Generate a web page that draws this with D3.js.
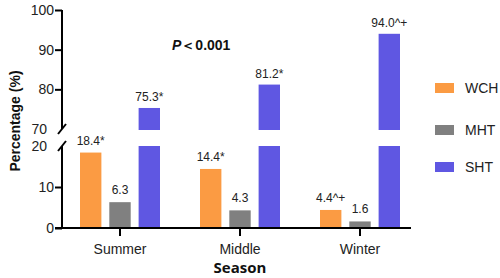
<!DOCTYPE html>
<html><head><meta charset="utf-8">
<script src="https://cdn.jsdelivr.net/npm/d3@7"></script>
<style>body{margin:0;background:#fff}svg{display:block}text{font-family:"Liberation Sans",Arial,sans-serif}</style>
</head><body><svg id="c" width="500" height="278"></svg>
<script>
const seasons = ["Summer", "Middle", "Winter"];
const seriesNames = ["WCH", "MHT", "SHT"];
const colors = ["#FB9B43", "#808080", "#5F57E2"];
const wch = [18.4, 14.4, 4.4];
const mht = [6.3, 4.3, 1.6];
const sht = [75.3, 81.2, 94.0];
const wchLabels = ["18.4*", "14.4*", "4.4^+"];
const mhtLabels = ["6.3", "4.3", "1.6"];
const shtLabels = ["75.3*", "81.2*", "94.0^+"];
const lowerTicks = [0, 10, 20];
const upperTicks = [70, 80, 90, 100];

const svg = d3.select("#c");
const x0 = d3.scaleBand().domain(seasons).range([60, 420]).paddingInner(0).paddingOuter(0);
const x1 = d3.scaleBand().domain(seriesNames).range([0, 80]).paddingInner(0.27).paddingOuter(0);
const yLow = d3.scaleLinear().domain([0, 20]).range([228, 146]);
const yUp = d3.scaleLinear().domain([70, 100]).range([129, 10]);
const axisX = 62;

const vals = [wch, mht, sht];
const labs = [wchLabels, mhtLabels, shtLabels];
const bars = [];
seriesNames.forEach((s, si) => seasons.forEach((c, ci) => bars.push({s, si, c, v: vals[si][ci], l: labs[si][ci]})));

const g = svg.append("g");
bars.forEach(d => {
  const bx = x0(d.c) + x0.bandwidth()/2 - 40 + x1(d.s);
  const bw = x1.bandwidth();
  if (d.v <= 20) {
    g.append("rect").attr("x", bx).attr("y", yLow(d.v)).attr("width", bw).attr("height", yLow(0) - yLow(d.v)).attr("fill", colors[d.si]);
    g.append("text").attr("x", bx + bw/2).attr("y", yLow(d.v) - 8).attr("text-anchor", "middle").attr("font-size", 12).attr("fill", "#222").text(d.l);
  } else {
    g.append("rect").attr("x", bx).attr("y", yLow(20)).attr("width", bw).attr("height", yLow(0) - yLow(20)).attr("fill", colors[d.si]);
    g.append("rect").attr("x", bx).attr("y", yUp(d.v)).attr("width", bw).attr("height", yUp(70) + 1 - yUp(d.v)).attr("fill", colors[d.si]);
    g.append("text").attr("x", bx + bw/2).attr("y", yUp(d.v) - 7).attr("text-anchor", "middle").attr("font-size", 12).attr("fill", "#222").text(d.l);
  }
});

// y axes
const ax1 = svg.append("g").attr("transform", `translate(${axisX},0)`).call(d3.axisLeft(yLow).tickValues(lowerTicks).tickSize(7).tickSizeOuter(0));
const ax2 = svg.append("g").attr("transform", `translate(${axisX},0)`).call(d3.axisLeft(yUp).tickValues(upperTicks.slice(1)).tickSize(7).tickSizeOuter(0));
const ax3 = svg.append("g").attr("transform", `translate(${axisX},0)`).call(d3.axisLeft(yUp).tickValues([70]).tickSize(0).tickSizeOuter(0));
[ax1, ax2, ax3].forEach(a => {
  a.select(".domain").remove();
  a.selectAll("line").attr("stroke", "#000").attr("stroke-width", 2);
  a.selectAll("text").attr("font-size", 14).attr("fill", "#222").attr("font-family", "Liberation Sans, Arial, sans-serif");
});
ax1.selectAll("text").attr("x", -8);
ax2.selectAll("text").attr("x", -8);
ax3.selectAll("text").attr("x", -15);
ax1.selectAll(".tick").filter(d => d === 20).select("line").remove();
ax1.selectAll(".tick").filter(d => d === 20).select("text").attr("x", -15);
svg.append("line").attr("x1", axisX).attr("x2", axisX).attr("y1", yLow(0)).attr("y2", yLow(20)).attr("stroke", "#000").attr("stroke-width", 2);
svg.append("line").attr("x1", axisX).attr("x2", axisX).attr("y1", yUp(70)).attr("y2", yUp(100)).attr("stroke", "#000").attr("stroke-width", 2);
// break marks
[yUp(70), yLow(20)].forEach(yy => {
  svg.append("line").attr("x1", axisX - 4).attr("y1", yy + 5).attr("x2", axisX + 4).attr("y2", yy - 5).attr("stroke", "#000").attr("stroke-width", 2);
});

// x axis
const ax = svg.append("g").attr("transform", `translate(0,${yLow(0)})`).call(d3.axisBottom(x0).tickSize(8).tickSizeOuter(0));
ax.select(".domain").remove();
ax.selectAll("line").attr("stroke", "#000").attr("stroke-width", 2);
ax.selectAll("text").attr("font-size", 14).attr("fill", "#222").attr("dy", "1.05em").attr("font-family", "Liberation Sans, Arial, sans-serif");
svg.append("line").attr("x1", axisX - 7).attr("x2", 411).attr("y1", yLow(0)).attr("y2", yLow(0)).attr("stroke", "#000").attr("stroke-width", 2);

// titles
svg.append("text").attr("transform", `translate(20,${(yUp(100)+yLow(0))/2 + 2}) rotate(-90)`).attr("text-anchor", "middle").attr("font-size", 14).attr("font-weight", "bold").attr("fill", "#111").text("Percentage (%)");
svg.append("text").attr("x", 240).attr("y", 273).attr("text-anchor", "middle").attr("font-size", 15).attr("font-weight", "bold").attr("fill", "#111").style("font-family", "Open Sans, sans-serif").text("Season");
const pt = svg.append("text").attr("x", 172).attr("y", 50).attr("font-size", 14).attr("font-weight", "bold").attr("fill", "#111");
pt.append("tspan").attr("font-style", "italic").text("P");
pt.append("tspan").text("＜0.001");

// legend
const lg = svg.append("g");
seriesNames.forEach((s, i) => {
  const yy = [88, 130, 167][i];
  lg.append("rect").attr("x", 435).attr("y", yy - 5).attr("width", 19).attr("height", 10).attr("fill", colors[i]);
  lg.append("text").attr("x", 465).attr("y", yy + 5).attr("font-size", 14).attr("fill", "#222").text(s);
});
</script></body></html>
